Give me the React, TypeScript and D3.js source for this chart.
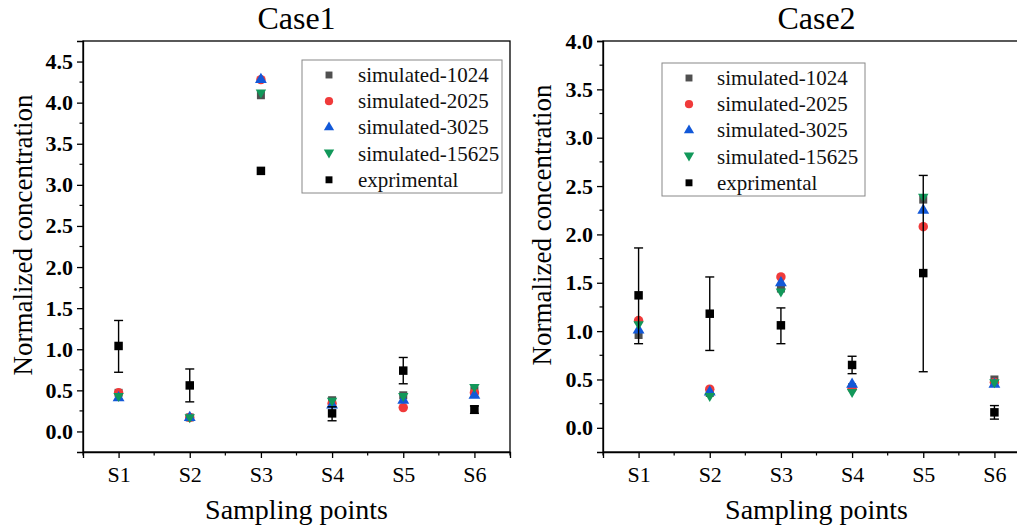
import React, { useEffect, useRef } from 'react';
import * as d3 from 'd3';

// sampling points
const sites = ['S1', 'S2', 'S3', 'S4', 'S5', 'S6'];

const seriesNames = ['simulated-1024', 'simulated-2025', 'simulated-3025', 'simulated-15625', 'exprimental'];
const seriesColors = ['#505050', '#f03a3a', '#1258d8', '#12985a', '#000000'];
const seriesShapes = ['square', 'circle', 'triangle', 'triangleDown', 'square'];

// Case1 values
const case1Sim1024 = [0.47, 0.17, 4.09, 0.38, 0.44, 0.50];
const case1Sim2025 = [0.47, 0.17, 4.28, 0.34, 0.29, 0.47];
const case1Sim3025 = [0.41, 0.17, 4.28, 0.32, 0.38, 0.44];
const case1Sim15625 = [0.42, 0.16, 4.11, 0.36, 0.42, 0.53];
const case1Exp = [1.04, 0.56, 3.17, 0.22, 0.74, 0.27];
const case1ExpLow = [0.72, 0.36, 3.17, 0.13, 0.58, 0.22];
const case1ExpHigh = [1.35, 0.76, 3.17, 0.30, 0.90, 0.31];

// Case2 values
const case2Sim1024 = [0.96, 0.36, 1.44, 0.42, 2.36, 0.50];
const case2Sim2025 = [1.11, 0.40, 1.56, 0.41, 2.08, 0.47];
const case2Sim3025 = [1.01, 0.37, 1.50, 0.45, 2.25, 0.45];
const case2Sim15625 = [1.06, 0.32, 1.40, 0.36, 2.38, 0.46];
const case2Exp = [1.37, 1.18, 1.06, 0.65, 1.60, 0.16];
const case2ExpLow = [0.87, 0.80, 0.87, 0.56, 0.58, 0.09];
const case2ExpHigh = [1.86, 1.56, 1.24, 0.74, 2.61, 0.23];

const case1YTicks = [0, 0.5, 1, 1.5, 2, 2.5, 3, 3.5, 4, 4.5];
const case2YTicks = [0, 0.5, 1, 1.5, 2, 2.5, 3, 3.5, 4];

const font = '"Liberation Serif", "Times New Roman", serif';

function symbolFor(shape, size) {
    if (shape === 'circle') return d3.symbol().type(d3.symbolCircle).size(size * 1.1)();
    if (shape === 'square') return d3.symbol().type(d3.symbolSquare).size(size)();
    if (shape === 'triangle') return d3.symbol().type(d3.symbolTriangle).size(size * 0.95)();
    return 'M-5.2,-4L5.2,-4L0,5Z';
}

const panels = [
    {
        title: 'Case1', left: 83, right: 510, top: 41, bottom: 452, yMin: -0.25, yMax: 4.75,
        yTicks: case1YTicks, sims: [case1Sim1024, case1Sim2025, case1Sim3025, case1Sim15625],
        exp: case1Exp, low: case1ExpLow, high: case1ExpHigh,
        ylabelX: 23, ylabelY: 235,
        legend: { x: 302, y: 60, w: 200, h: 133, markerX: 329, textX: 358, rowY: 75 },
    },
    {
        title: 'Case2', left: 603, right: 1030, top: 41, bottom: 452, yMin: -0.25, yMax: 4.0,
        yTicks: case2YTicks, sims: [case2Sim1024, case2Sim2025, case2Sim3025, case2Sim15625],
        exp: case2Exp, low: case2ExpLow, high: case2ExpHigh,
        ylabelX: 542, ylabelY: 225,
        legend: { x: 662, y: 63, w: 203, h: 133, markerX: 689, textX: 717, rowY: 78 },
    },
];

export default function App() {
    const svgRef = useRef(null);

    useEffect(() => {
        const svg = d3.select(svgRef.current);
        svg.selectAll('*').remove();

        panels.forEach((p) => {
            const g = svg.append('g');
            const xScale = d3.scaleLinear().domain([0.5, 6.5]).range([p.left, p.right]);
            const yScale = d3.scaleLinear().domain([p.yMin, p.yMax]).range([p.bottom, p.top]);

            // frame
            g.append('rect')
                .attr('x', p.left).attr('y', p.top)
                .attr('width', p.right - p.left).attr('height', p.bottom - p.top)
                .attr('fill', 'none').attr('stroke', '#000').attr('stroke-width', 1.3);

            // y axis
            const yAxis = d3.axisLeft(yScale).tickValues(p.yTicks).tickSize(6).tickPadding(4)
                .tickFormat(d3.format('.1f'));
            const ya = g.append('g').attr('transform', `translate(${p.left},0)`).call(yAxis);
            ya.select('.domain').attr('stroke-width', 1.3);
            ya.selectAll('line').attr('stroke-width', 1.3);
            ya.selectAll('text').attr('font-family', font).attr('font-size', 22)
                .attr('font-weight', 'bold').attr('fill', '#000');
            const yMinor = d3.range(0.25, p.yMax, 0.5);
            g.append('g').selectAll('line').data(yMinor).join('line')
                .attr('x1', p.left - 3.5).attr('x2', p.left)
                .attr('y1', (d) => yScale(d)).attr('y2', (d) => yScale(d))
                .attr('stroke', '#000').attr('stroke-width', 1.2);

            // x axis
            const xAxis = d3.axisBottom(xScale).tickValues([1, 2, 3, 4, 5, 6]).tickSize(6).tickPadding(8)
                .tickFormat((d) => sites[d - 1]);
            const xa = g.append('g').attr('transform', `translate(0,${p.bottom})`).call(xAxis);
            xa.select('.domain').attr('stroke-width', 1.3);
            xa.selectAll('line').attr('stroke-width', 1.3);
            xa.selectAll('text').attr('font-family', font).attr('font-size', 22).attr('fill', '#000');
            const xMinor = d3.range(0.5, 7, 1);
            g.append('g').selectAll('line').data(xMinor).join('line')
                .attr('x1', (d) => xScale(d)).attr('x2', (d) => xScale(d))
                .attr('y1', p.bottom).attr('y2', p.bottom + 3.5)
                .attr('stroke', '#000').attr('stroke-width', 1.2);

            // titles
            g.append('text').attr('x', (p.left + p.right) / 2).attr('y', 29)
                .attr('text-anchor', 'middle').attr('font-family', font).attr('font-size', 32)
                .text(p.title);
            g.append('text').attr('x', (p.left + p.right) / 2).attr('y', 519)
                .attr('text-anchor', 'middle').attr('font-family', font).attr('font-size', 28)
                .text('Sampling points');
            g.append('text')
                .attr('transform', `translate(${p.ylabelX},${p.ylabelY}) rotate(-90)`)
                .attr('text-anchor', 'middle').attr('dominant-baseline', 'central')
                .attr('font-family', font).attr('font-size', 27)
                .text('Normalized concentration');

            // simulated series
            p.sims.forEach((vals, si) => {
                g.append('g').selectAll('path').data(vals).join('path')
                    .attr('d', symbolFor(seriesShapes[si], 64))
                    .attr('transform', (d, i) => `translate(${xScale(i + 1)},${yScale(d)})`)
                    .attr('fill', seriesColors[si]);
            });

            // experimental with error bars
            const eb = g.append('g').attr('stroke', '#000').attr('stroke-width', 1.4);
            p.exp.forEach((v, i) => {
                if (p.high[i] - p.low[i] < 0.01) return;
                const x = xScale(i + 1);
                eb.append('line').attr('x1', x).attr('x2', x).attr('y1', yScale(p.low[i])).attr('y2', yScale(p.high[i]));
                eb.append('line').attr('x1', x - 4.5).attr('x2', x + 4.5).attr('y1', yScale(p.low[i])).attr('y2', yScale(p.low[i]));
                eb.append('line').attr('x1', x - 4.5).attr('x2', x + 4.5).attr('y1', yScale(p.high[i])).attr('y2', yScale(p.high[i]));
            });
            g.append('g').selectAll('path').data(p.exp).join('path')
                .attr('d', symbolFor('square', 72))
                .attr('transform', (d, i) => `translate(${xScale(i + 1)},${yScale(d)})`)
                .attr('fill', '#000');

            // legend
            const L = p.legend;
            const lg = g.append('g');
            lg.append('rect').attr('x', L.x).attr('y', L.y).attr('width', L.w).attr('height', L.h)
                .attr('fill', '#fff').attr('stroke', '#888').attr('stroke-width', 1);
            seriesNames.forEach((name, k) => {
                const cy = L.rowY + k * 26.2;
                lg.append('path').attr('d', symbolFor(seriesShapes[k], 48))
                    .attr('transform', `translate(${L.markerX},${cy})`).attr('fill', seriesColors[k]);
                lg.append('text').attr('x', L.textX).attr('y', cy).attr('dominant-baseline', 'central')
                    .attr('font-family', font).attr('font-size', 21).attr('fill', '#111').text(name);
            });
        });
    }, []);

    return (
        <div style={{ position: 'fixed', left: 0, top: 0, width: 1017, height: 528, overflow: 'hidden', background: '#fff' }}>
            <svg width={1017} height={528} ref={svgRef} style={{ display: 'block' }} />
        </div>
    );
}
